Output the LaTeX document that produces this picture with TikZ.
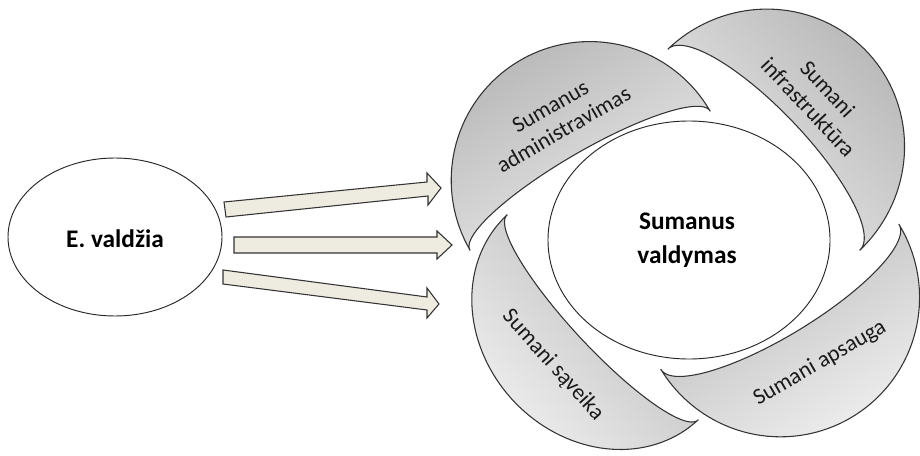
\documentclass[tikz,border=0pt]{standalone}
\usepackage{fontspec}
\setmainfont{Carlito}
\usetikzlibrary{shapes.geometric}
\definecolor{arrowfill}{HTML}{EEECE1}
\definecolor{edgecol}{HTML}{333333}
\definecolor{shadedark}{HTML}{B9B9B9}
\definecolor{shadelight}{HTML}{EDEDED}
\definecolor{textcol}{HTML}{1A1A1A}
\begin{document}
\begin{tikzpicture}[x=0.75pt,y=-0.75pt,
  crescent/.style={draw=edgecol, line width=0.8pt, line join=miter, left color=shadedark, right color=shadelight},
  arcplot/.style={variable=\a, samples=72},
  blockarrow/.style={draw=black!80, fill=arrowfill, line width=0.8pt, line join=miter},
  oval/.style={ellipse, draw=black!85, line width=0.7pt, fill=white, inner sep=0pt},
  mainlabel/.style={font=\fontsize{19pt}{25.5pt}\selectfont\bfseries, text=black, align=center},
  sidelabel/.style={font=\fontsize{17pt}{20pt}\selectfont, text=textcol, align=center}
]
\useasboundingbox (0,0) rectangle (920,456);
\fill[white] (0,0) rectangle (920,456);

% left oval
\node[oval, minimum width=160.5pt, minimum height=118.5pt] (ev) at (115,237) {};
\node[mainlabel] (evt) at (115,239) {E. valdžia};

% block arrows
\draw[blockarrow] (224,202) -- (427,182) -- (427,173) -- (441,188) -- (428,205) -- (428,196) -- (226,217) -- cycle;
\draw[blockarrow] (234,237) -- (437,237) -- (437,231) -- (452,245) -- (437,259) -- (437,253) -- (234,253) -- cycle;
\draw[blockarrow] (223,270) -- (427,297) -- (427,288) -- (439,304) -- (427,318) -- (427,310) -- (223,284) -- cycle;

% crescents: outer and inner half-ellipses on the chord between the two tips
% top-left
\path[crescent, shading angle=30]
  plot[arcplot, domain=180:360] ({590+120.05*cos(\a)+69.68*sin(\a)}, {180.5-69.53*cos(\a)+120.30*sin(\a)})
  -- plot[arcplot, domain=0:-180] ({590+120.05*cos(\a)+15.04*sin(\a)}, {180.5-69.53*cos(\a)+25.97*sin(\a)})
  -- cycle;
% top-right
\path[crescent, shading angle=-46]
  plot[arcplot, domain=180:360] ({764+95.99*cos(\a)-102.67*sin(\a)}, {149.5+100.50*cos(\a)+98.07*sin(\a)})
  -- plot[arcplot, domain=0:-180] ({764+95.99*cos(\a)-28.92*sin(\a)}, {149.5+100.50*cos(\a)+27.62*sin(\a)})
  -- cycle;
% bottom-right
\path[crescent, shading angle=31]
  plot[arcplot, domain=180:360] ({780-119.05*cos(\a)-72.84*sin(\a)}, {297+72.53*cos(\a)-119.56*sin(\a)})
  -- plot[arcplot, domain=0:-180] ({780-119.05*cos(\a)-19.77*sin(\a)}, {297+72.53*cos(\a)-32.45*sin(\a)})
  -- cycle;
% bottom-left
\path[crescent, shading angle=-47]
  plot[arcplot, domain=180:360] ({602.5-95.51*cos(\a)+89.26*sin(\a)}, {317.5-102.50*cos(\a)-83.17*sin(\a)})
  -- plot[arcplot, domain=0:-180] ({602.5-95.51*cos(\a)+21.95*sin(\a)}, {317.5-102.50*cos(\a)-20.45*sin(\a)})
  -- cycle;

% centre oval
\node[oval, minimum width=211.5pt, minimum height=178.5pt] (sv) at (689,240) {};
\node[mainlabel] (svt) at (687,240) {Sumanus\\valdymas};

% crescent labels
\node[sidelabel, rotate=30] (adm) at (557,118) {Sumanus\\administravimas};
\node[sidelabel, rotate=-47] (inf) at (818,98) {Sumani\\infrastruktūra};
\node[sidelabel, rotate=30] (aps) at (820,363) {Sumani apsauga};
\node[sidelabel, rotate=-48] (sav) at (553,365) {Sumani sąveika};
\end{tikzpicture}
\end{document}
